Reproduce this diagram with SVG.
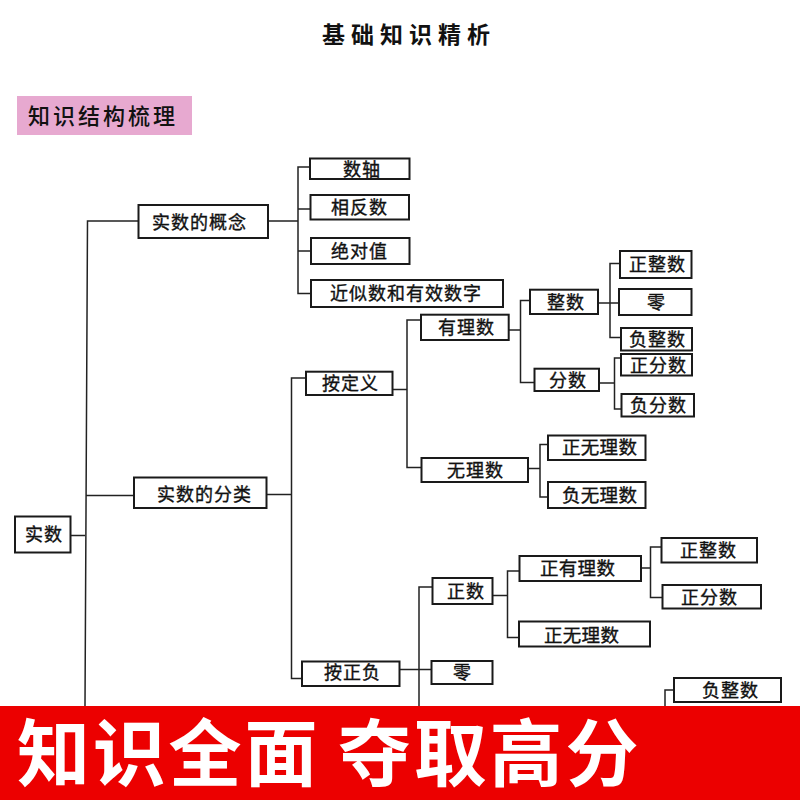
<svg xmlns="http://www.w3.org/2000/svg" width="800" height="800" viewBox="0 0 800 800">
<style>
text{font-family:"Noto Sans CJK SC","Noto Sans",sans-serif;fill:#111}
.n rect{fill:#fff;stroke:#1a1a1a;stroke-width:2}
.n text{font-size:18px;letter-spacing:1px;stroke:#111;stroke-width:.35px}
.w text{font-size:18.5px;letter-spacing:.3px}
#connectors path{fill:none;stroke:#222;stroke-width:1.5}
#banner text{font-size:73px;font-weight:700;letter-spacing:2.800px;fill:#fff}
</style>
<rect width="800" height="800" fill="#fff"/>
<g id="title"><text x="322" y="43" font-size="23" font-weight="700" letter-spacing="6">基础知识精析</text></g>
<g id="section-header"><rect x="17" y="96" width="175" height="39" fill="#e7a9d0"/><text x="28" y="124" font-size="22" font-weight="500" letter-spacing="3">知识结构梳理</text></g>
<g id="connectors">
<path d="M138 221H87.500L85 706M70 535.500H85M86 495.500H134"/>
<path d="M268 221H298M310 167H298V293.500H311M298 209H310M298 251H311"/>
<path d="M266 494.500H291.500M306 378H291.500V678.500H302"/>
<path d="M392 389.500H407M421 320H407V467.500H421"/>
<path d="M508 330H520.500M530 300.500H520.500V382.500H534"/>
<path d="M598 303H619M620 263.500H610V337.500H621"/>
<path d="M599 383H614.500M621 358H614.500V409H621"/>
<path d="M528 468.500H540M548 444.500H540V497H548"/>
<path d="M399 669.500H431M432 587H419V706"/>
<path d="M492 595.500H507.500M519 571H507.500V637.500H519"/>
<path d="M641 568H650.500M661 547H650.500V597.500H662"/>
<path d="M674 690H665V706"/>
</g>
<g id="n-shishu" class="n"><rect x="15" y="516.500" width="55.500" height="36"/><text x="25" y="541">实数</text></g>
<g id="n-gainian" class="n"><rect x="138.500" y="205" width="129.500" height="33"/><text x="152" y="229">实数的概念</text></g>
<g id="n-fenlei" class="n"><rect x="134" y="477.500" width="132.500" height="30.500"/><text x="157" y="501">实数的分类</text></g>
<g id="n-shuzhou" class="n"><rect x="310" y="158.500" width="99.500" height="20.500"/><text x="343" y="176">数轴</text></g>
<g id="n-xiangfan" class="n"><rect x="310.500" y="195" width="98.500" height="24.500"/><text x="331" y="214">相反数</text></g>
<g id="n-jueduizhi" class="n"><rect x="311" y="238" width="98.500" height="26"/><text x="331" y="258">绝对值</text></g>
<g id="n-jinsi" class="n"><rect x="311" y="280" width="192" height="27"/><text x="330" y="300">近似数和有效数字</text></g>
<g id="n-dingyi" class="n"><rect x="306" y="371.700" width="86.500" height="23.300"/><text x="322" y="390">按定义</text></g>
<g id="n-zhengfu" class="n"><rect x="302" y="661.500" width="97.500" height="24.500"/><text x="324" y="679">按正负</text></g>
<g id="n-youli" class="n"><rect x="421" y="314.700" width="87.700" height="25.300"/><text x="438" y="334">有理数</text></g>
<g id="n-wuli" class="n"><rect x="421.500" y="458" width="106.500" height="24"/><text x="447" y="477">无理数</text></g>
<g id="n-zhengshu" class="n"><rect x="530" y="289.700" width="68" height="24.300"/><text x="547" y="309">整数</text></g>
<g id="n-fenshu" class="n"><rect x="534.500" y="368.700" width="64.500" height="22.300"/><text x="549" y="387">分数</text></g>
<g id="n-zzs1" class="n"><rect x="620" y="251" width="71.500" height="27"/><text x="629" y="271">正整数</text></g>
<g id="n-ling1" class="n"><rect x="619" y="289" width="72.500" height="26"/><text x="647" y="309">零</text></g>
<g id="n-fzs1" class="n"><rect x="621" y="328" width="71" height="22.500"/><text x="629" y="346">负整数</text></g>
<g id="n-zfs1" class="n"><rect x="621" y="354" width="71" height="21.500"/><text x="630" y="372">正分数</text></g>
<g id="n-ffs1" class="n"><rect x="621.500" y="394" width="72.500" height="22.500"/><text x="630" y="412">负分数</text></g>
<g id="n-zwl1" class="n w"><rect x="548" y="435.500" width="97.500" height="24.500"/><text x="562" y="454">正无理数</text></g>
<g id="n-fwl1" class="n w"><rect x="548" y="482" width="97.500" height="26"/><text x="562" y="502">负无理数</text></g>
<g id="n-zs" class="n"><rect x="432.500" y="578" width="60" height="26"/><text x="447" y="598">正数</text></g>
<g id="n-ling2" class="n"><rect x="431.500" y="661" width="61" height="23"/><text x="453" y="679">零</text></g>
<g id="n-zyl" class="n w"><rect x="519.500" y="556" width="121.500" height="25"/><text x="540" y="575">正有理数</text></g>
<g id="n-zwl2" class="n w"><rect x="519" y="621.500" width="131" height="25"/><text x="544" y="642">正无理数</text></g>
<g id="n-zzs2" class="n"><rect x="661.500" y="538" width="95.500" height="24.500"/><text x="680" y="557">正整数</text></g>
<g id="n-zfs2" class="n"><rect x="662.500" y="585" width="98.500" height="23.500"/><text x="681" y="604">正分数</text></g>
<g id="n-fzs2" class="n"><rect x="674" y="678" width="107" height="24"/><text x="702" y="697">负整数</text></g>
<g id="banner"><rect x="0" y="706" width="800" height="94" fill="#ec0000"/><text x="17" y="780">知识全面</text><text x="338" y="780">夺取高分</text></g>
</svg>
